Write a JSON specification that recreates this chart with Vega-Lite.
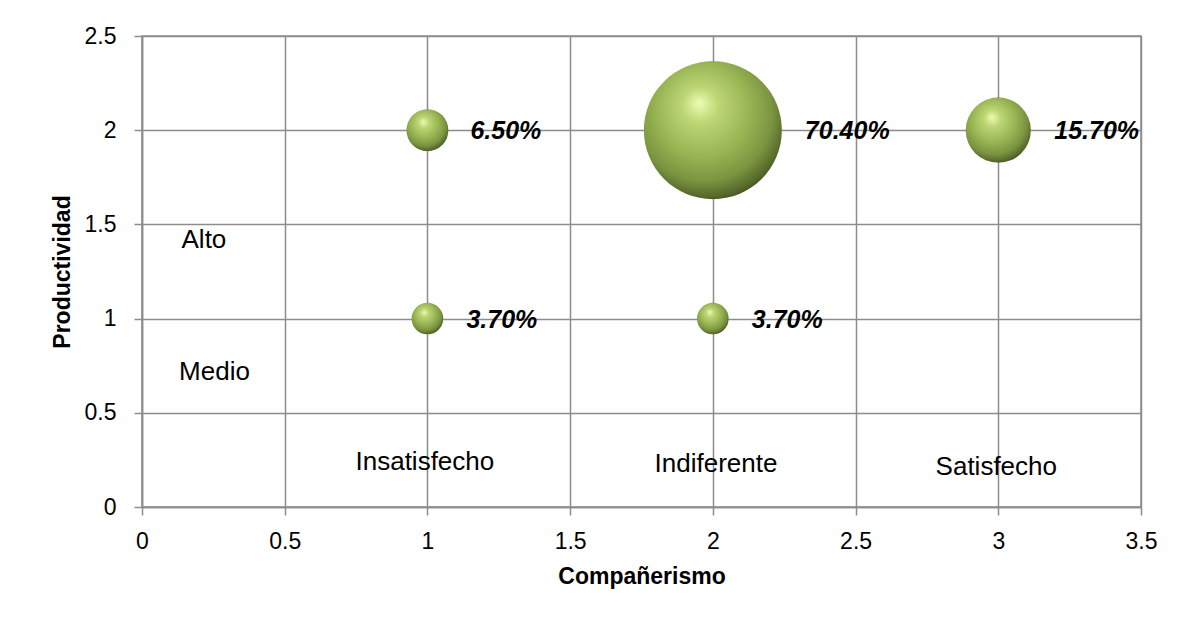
{
  "$schema": "https://vega.github.io/schema/vega-lite/v6.json",
  "autosize": {"type": "none"},
  "width": 999,
  "height": 471,
  "padding": {"left": 142, "top": 36, "right": 37, "bottom": 117},
  "background": "white",
  "config": {
    "font": "Liberation Sans",
    "view": {"stroke": "#8c8c8c", "strokeWidth": 1.5},
    "axis": {
      "gridColor": "#8c8c8c", "gridWidth": 1.5, "gridOpacity": 1,
      "domainColor": "#8c8c8c", "domainWidth": 1.5,
      "tickColor": "#8c8c8c", "tickWidth": 1.5, "tickSize": 8,
      "labelFlush": false, "labelOverlap": false,
      "labelFont": "Liberation Sans", "labelFontSize": 23, "labelColor": "#000000",
      "titleFont": "Liberation Sans", "titleFontSize": 23, "titleFontWeight": "bold", "titleColor": "#000000"
    }
  },
  "datasets": {
    "bubbles": [
      {"companerismo": 1, "productividad": 2, "pct": 0.065},
      {"companerismo": 2, "productividad": 2, "pct": 0.704},
      {"companerismo": 3, "productividad": 2, "pct": 0.157},
      {"companerismo": 1, "productividad": 1, "pct": 0.037},
      {"companerismo": 2, "productividad": 1, "pct": 0.037}
    ],
    "cats": [
      {"companerismo": 0.217, "productividad": 1.417, "texto": "Alto"},
      {"companerismo": 0.254, "productividad": 0.717, "texto": "Medio"},
      {"companerismo": 0.991, "productividad": 0.239, "texto": "Insatisfecho"},
      {"companerismo": 2.011, "productividad": 0.226, "texto": "Indiferente"},
      {"companerismo": 2.993, "productividad": 0.21, "texto": "Satisfecho"}
    ]
  },
  "encoding": {
    "x": {
      "field": "companerismo", "type": "quantitative",
      "scale": {"domain": [0, 3.5], "nice": false, "zero": true},
      "axis": {"values": [0, 0.5, 1, 1.5, 2, 2.5, 3, 3.5], "format": "~g", "title": "Compañerismo", "labelPadding": 15, "titlePadding": 12}
    },
    "y": {
      "field": "productividad", "type": "quantitative",
      "scale": {"domain": [0, 2.5], "nice": false, "zero": true},
      "axis": {"values": [0, 0.5, 1, 1.5, 2, 2.5], "format": "~g", "title": "Productividad", "labelPadding": 18, "titlePadding": 10}
    }
  },
  "layer": [
    {
      "data": {"name": "bubbles"},
      "mark": {
        "type": "point", "shape": "circle", "filled": true, "opacity": 1,
        "fill": {
          "gradient": "radial",
          "x1": 0.4, "y1": 0.3, "r1": 0,
          "x2": 0.45, "y2": 0.4, "r2": 0.66,
          "stops": [
            {"offset": 0, "color": "#eefcb4"},
            {"offset": 0.2, "color": "#bcd674"},
            {"offset": 0.5, "color": "#9ab654"},
            {"offset": 0.75, "color": "#7a9440"},
            {"offset": 0.9, "color": "#55682a"},
            {"offset": 1, "color": "#2e3816"}
          ]
        }
      },
      "encoding": {
        "size": {"field": "pct", "type": "quantitative", "scale": {"domain": [0, 0.704], "range": [0, 19044]}, "legend": null}
      }
    },
    {
      "data": {"name": "bubbles"},
      "transform": [{"filter": "datum.pct > 0.5"}],
      "mark": {"type": "text", "align": "left", "baseline": "middle", "dx": 92, "dy": 1, "font": "Liberation Sans", "fontSize": 25, "fontWeight": "bold", "fontStyle": "italic", "color": "#000000"},
      "encoding": {"text": {"field": "pct", "type": "quantitative", "format": ".2%"}}
    },
    {
      "data": {"name": "bubbles"},
      "transform": [{"filter": "datum.pct > 0.1 && datum.pct < 0.5"}],
      "mark": {"type": "text", "align": "left", "baseline": "middle", "dx": 56, "dy": 1, "font": "Liberation Sans", "fontSize": 25, "fontWeight": "bold", "fontStyle": "italic", "color": "#000000"},
      "encoding": {"text": {"field": "pct", "type": "quantitative", "format": ".2%"}}
    },
    {
      "data": {"name": "bubbles"},
      "transform": [{"filter": "datum.pct > 0.05 && datum.pct < 0.1"}],
      "mark": {"type": "text", "align": "left", "baseline": "middle", "dx": 43, "dy": 1, "font": "Liberation Sans", "fontSize": 25, "fontWeight": "bold", "fontStyle": "italic", "color": "#000000"},
      "encoding": {"text": {"field": "pct", "type": "quantitative", "format": ".2%"}}
    },
    {
      "data": {"name": "bubbles"},
      "transform": [{"filter": "datum.pct < 0.05"}],
      "mark": {"type": "text", "align": "left", "baseline": "middle", "dx": 39, "dy": 1, "font": "Liberation Sans", "fontSize": 25, "fontWeight": "bold", "fontStyle": "italic", "color": "#000000"},
      "encoding": {"text": {"field": "pct", "type": "quantitative", "format": ".2%"}}
    },
    {
      "data": {"name": "cats"},
      "mark": {"type": "text", "align": "center", "baseline": "middle", "font": "Liberation Sans", "fontSize": 26, "color": "#000000"},
      "encoding": {"text": {"field": "texto", "type": "nominal"}}
    }
  ]
}
